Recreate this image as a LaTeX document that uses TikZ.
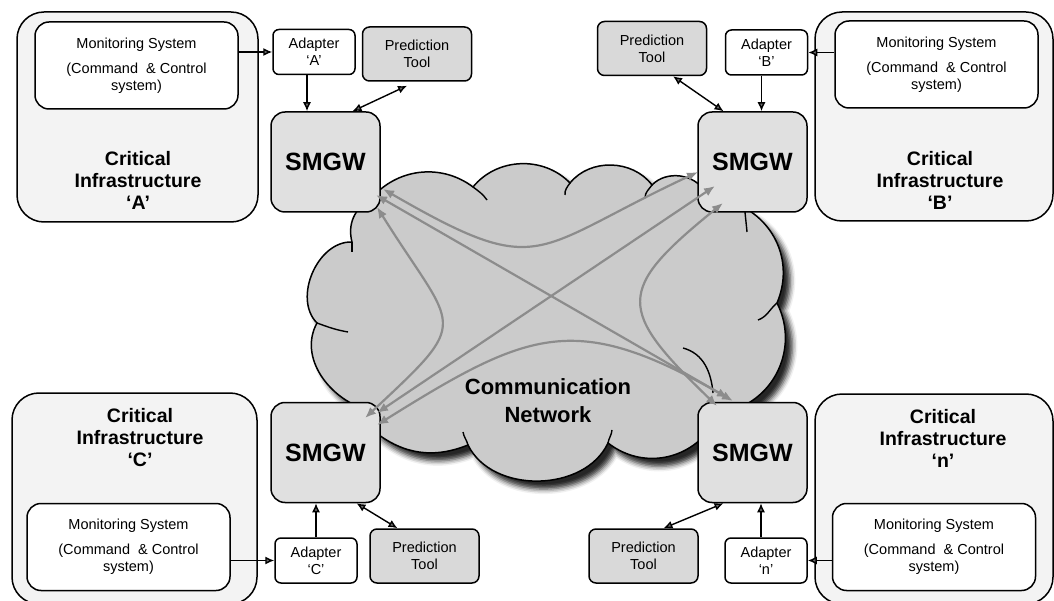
\documentclass[tikz,border=0pt]{standalone}
\usepackage{fontspec}
\setmainfont{Liberation Sans}
\usetikzlibrary{arrows.meta, calc, shadows.blur}

\definecolor{cifill}{HTML}{F3F3F3}
\definecolor{gwfill}{HTML}{E0E0E0}
\definecolor{predfill}{HTML}{D9D9D9}
\definecolor{cloudfill}{HTML}{CBCBCB}
\definecolor{linkgrey}{HTML}{8C8C8C}

\begin{document}
\begin{tikzpicture}[x=1pt, y=1pt,
    base/.style={draw=black, line width=1.5pt, inner sep=0pt, align=center,
      font=\fontsize{14.5}{17}\selectfont},
    ci/.style={base, fill=cifill, rounded corners=27pt},
    mon/.style={base, fill=white, rounded corners=14pt,
      minimum width=203pt, minimum height=87pt},
    adp/.style={base, fill=white, rounded corners=6pt,
      minimum width=82pt, minimum height=45pt},
    pred/.style={base, fill=predfill, rounded corners=7pt,
      minimum width=109pt, minimum height=54pt},
    gw/.style={base, fill=gwfill, rounded corners=14pt,
      minimum width=109pt, minimum height=100pt,
      font=\fontsize{25}{28}\selectfont\bfseries},
    ttl/.style={align=center, font=\fontsize{19.5}{22}\selectfont\bfseries},
    arr/.style={-{Latex[length=9pt,width=8pt]}, line width=1.4pt},
    biarr/.style={{Latex[length=9pt,width=8pt]}-{Latex[length=9pt,width=8pt]},
      line width=1.4pt},
    link/.style={{Latex[length=11pt,width=9pt]}-{Latex[length=11pt,width=9pt]},
      draw=linkgrey, line width=2.2pt}]
\useasboundingbox (0,-601) rectangle (1054,0);

%% cloud
\path[draw=black, line width=1.5pt, fill=cloudfill,
  blur shadow={shadow xshift=7pt, shadow yshift=-8pt,
    shadow blur radius=5pt, shadow opacity=85}]
  (370,-200) to[out=51,in=143] (473,-187)
  to[out=51,in=134] (570,-183)
  to[out=51,in=127] (652,-185)
  to[out=46,in=119] (705,-192)
  -- (745,-208)
  to[out=-30,in=67] (777,-303)
  to[out=-63,in=28] (745,-405)
  -- (705,-435)
  to[out=227,in=-38] (608,-443)
  to[out=245,in=296] (468,-445)
  to[out=202,in=322] (375,-432)
  -- (368,-410)
  to[out=165,in=241] (317,-323)
  to[out=135,in=178] (352,-242)
  to[out=105,in=208] (370,-200) -- cycle;
% inner arcs
\draw[line width=1.4pt] (473,-187) to[out=-37,in=125] (487,-200);
\draw[line width=1.4pt] (570,-183) to[out=235,in=95] (565,-195);
\draw[line width=1.4pt] (652,-185) to[out=235,in=90] (645,-198);
\draw[line width=1.4pt] (745,-212) to[out=-85,in=95] (747,-232);
\draw[line width=1.4pt] (777,-303) to[out=220,in=20] (758,-320);
\draw[line width=1.4pt] (683,-348) to[out=-15,in=95] (713,-393);
\draw[line width=1.4pt] (608,-443) to[out=80,in=-95] (612,-430);
\draw[line width=1.4pt] (468,-445) to[out=105,in=-80] (463,-432);
\draw[line width=1.4pt] (317,-323) to[out=-20,in=170] (348,-332);
\draw[line width=1.4pt] (352,-242) -- (352,-252);
\node[align=center, font=\fontsize{22}{28}\selectfont\bfseries] (net)
  at (548,-401) {Communication\\Network};

%% critical infrastructure A
\node[ci, minimum width=241pt, minimum height=210pt] (ciA) at (137.5,-117) {};
\node[mon] (monA) at (136.5,-65.5)
  {Monitoring System\\[8pt](Command\ \ \& Control\\system)};
\node[ttl] (ttlA) at (138,-180) {Critical\\Infrastructure\\‘A’};
\node[adp] (adA) at (314,-52) {Adapter\\‘A’};
\node[pred] (predA) at (417,-54) {Prediction\\Tool};
\node[gw] (gwA) at (325.5,-162) {SMGW};
\draw[arr] (monA.east |- adA.west) -- (adA.west);
\draw[arr] ($(adA.south)+(-7,0)$) -- ($(adA.south |- gwA.north)+(-7,0)$);
\draw[biarr] ([xshift=-10pt,yshift=-4pt]predA.south) -- ([xshift=27pt]gwA.north);

%% critical infrastructure B
\node[ci, minimum width=238pt, minimum height=209pt] (ciB) at (934,-116.5) {};
\node[mon] (monB) at (936.5,-64.5)
  {Monitoring System\\[8pt](Command\ \ \& Control\\system)};
\node[ttl] (ttlB) at (940,-180) {Critical\\Infrastructure\\‘B’};
\node[adp] (adB) at (766.5,-52.5) {Adapter\\‘B’};
\node[pred] (predB) at (652,-48.5) {Prediction\\Tool};
\node[gw] (gwB) at (752.5,-162) {SMGW};
\draw[arr] (monB.west |- adB.east) -- (adB.east);
\draw[arr] ($(adB.south)+(-5,0)$) -- ($(adB.south |- gwB.north)+(-5,0)$);
\draw[biarr] ([xshift=21pt]predB.south) -- ([xshift=-29pt]gwB.north);

%% critical infrastructure C
\node[ci, minimum width=245pt, minimum height=211pt] (ciC) at (134.5,-498.5) {};
\node[mon] (monC) at (128.5,-547)
  {Monitoring System\\[8pt](Command\ \ \& Control\\system)};
\node[ttl] (ttlC) at (140,-438) {Critical\\Infrastructure\\‘C’};
\node[adp] (adC) at (316,-560.5) {Adapter\\‘C’};
\node[pred] (predC) at (424.5,-556) {Prediction\\Tool};
\node[gw] (gwC) at (325.5,-452.5) {SMGW};
\draw[arr] (monC.east |- adC.west) -- (adC.west);
\draw[arr] (adC.north) -- (adC.north |- gwC.south);
\draw[biarr] ([xshift=31pt]gwC.south) -- ([xshift=-27pt]predC.north);

%% critical infrastructure n
\node[ci, minimum width=238pt, minimum height=210pt] (ciN) at (934,-499) {};
\node[mon] (monN) at (934,-547)
  {Monitoring System\\[8pt](Command\ \ \& Control\\system)};
\node[ttl] (ttlN) at (943,-438) {Critical\\Infrastructure\\‘n’};
\node[adp] (adN) at (766,-560.5) {Adapter\\‘n’};
\node[pred] (predN) at (643.5,-556) {Prediction\\Tool};
\node[gw] (gwN) at (752.5,-452.5) {SMGW};
\draw[arr] (monN.west |- adN.east) -- (adN.east);
\draw[arr] ($(adN.north)+(-5,0)$) -- ($(adN.north |- gwN.south)+(-5,0)$);
\draw[biarr] ([xshift=20pt]predN.north) -- ([xshift=-29pt]gwN.south);

%% links through the network
\coordinate (lA1) at ($(gwA)+(57.5,-27)$);
\coordinate (lA2) at ($(gwA)+(50.5,-33)$);
\coordinate (lA3) at ($(gwA)+(51.5,-45)$);
\coordinate (lB1) at ($(gwB)+(-54.5,-10)$);
\coordinate (lB2) at ($(gwB)+(-37.5,-24)$);
\coordinate (lB3) at ($(gwB)+(-29.5,-41)$);
\coordinate (lC1) at ($(gwC)+(39.5,34.5)$);
\coordinate (lC2) at ($(gwC)+(51.5,39.5)$);
\coordinate (lC3) at ($(gwC)+(51.5,27.5)$);
\coordinate (lN1) at ($(gwN)+(-24.5,54.5)$);
\coordinate (lN2) at ($(gwN)+(-19.5,51.5)$);
\coordinate (lN3) at ($(gwN)+(-35.5,46.5)$);
\draw[link] (lA1) to[out=-30,in=205,looseness=1.5] (lB1);
\draw[link] (lA2) -- (lN1);
\draw[link] (lA3) to[out=-58,in=43,looseness=1.8] (lC1);
\draw[link] (lB2) -- (lC2);
\draw[link] (lB3) to[out=219,in=136,looseness=1.75] (lN3);
\draw[link] (lC3) to[out=32,in=150,looseness=1.3] (lN2);
\end{tikzpicture}
\end{document}
